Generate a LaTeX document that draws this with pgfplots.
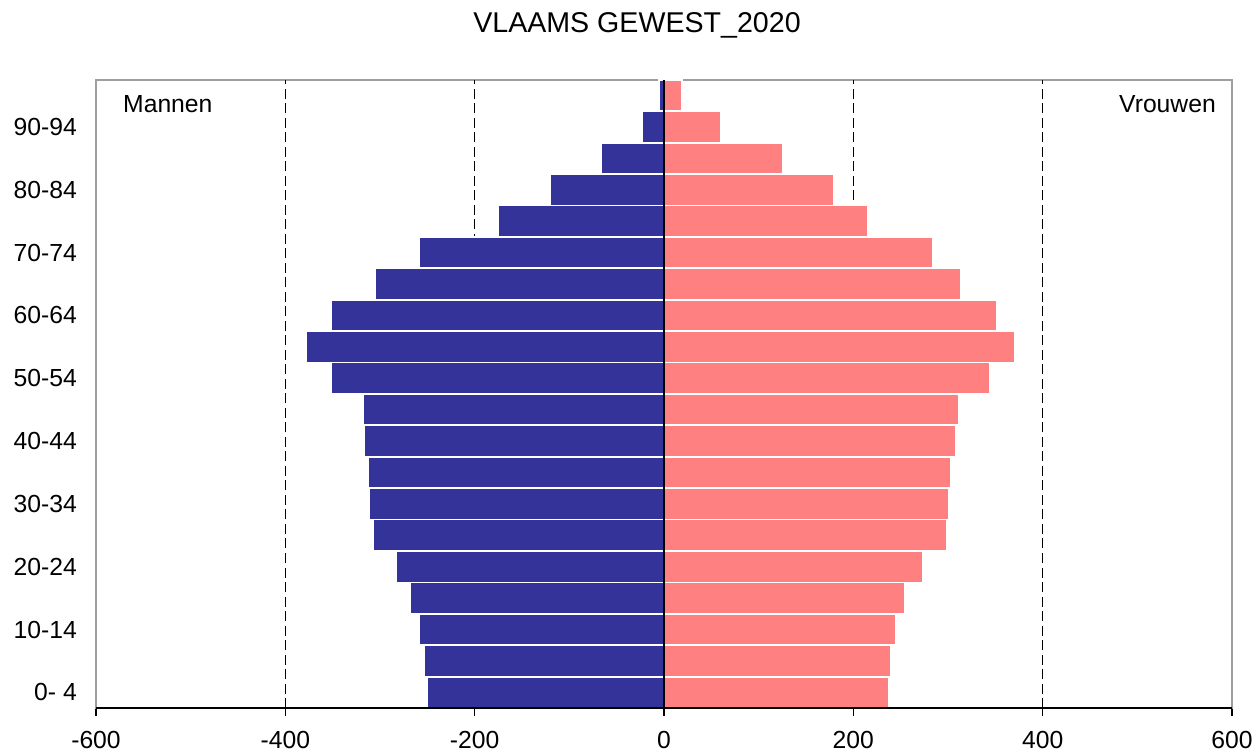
\documentclass[border=0pt]{standalone}
\usepackage{fontspec}
\setmainfont{Liberation Sans}
\usepackage{pgfplots}
\pgfplotsset{compat=1.18}

\definecolor{mannen}{HTML}{333399}
\definecolor{vrouwen}{HTML}{FF8080}

\begin{document}
\begin{tikzpicture}
  \path[use as bounding box] (-96pt,-45pt) rectangle (1160pt,708pt);
  \begin{axis}[
      at={(0,0)}, anchor=south west,
      scale only axis,
      width=1136pt, height=628pt,
      xmin=-600, xmax=600,
      ymin=-0.5, ymax=19.5,
      xbar, bar width=31.4pt,
      xtick={-600,-400,-200,0,200,400,600},
      xtick pos=lower,
      ytick={0,2,...,18},
      yticklabels={0- 4,10-14,20-24,30-34,40-44,50-54,60-64,70-74,80-84,90-94},
      ytick style={draw=none},
      xtick align=outside,
      major tick length=8pt,
      xtick style={black, line width=1.3pt},
      axis line style={draw=gray!75, line width=1.3pt},
      /pgf/number format/assume math mode=true,
      tick label style={font=\fontsize{24.7}{28}\selectfont, black},
      yticklabel style={inner sep=0pt, xshift=-11pt},
      xticklabel style={inner sep=0pt, anchor=north, yshift=-15pt},
      extra x ticks={-400,-200,200,400},
      extra x tick labels={},
      extra x tick style={grid=major, major grid style={black, line width=1.6pt, dash pattern=on 10pt off 4.5pt}, major tick length=0pt},
      title={VLAAMS GEWEST\_2020},
      title style={font=\fontsize{28.6}{32}\selectfont, at={(0.5,1)}, anchor=base, yshift=41pt, xshift=-27pt},
    ]
    % Mannen (0-4 .. 95+)
    \addplot[xbar, bar shift=0pt, fill=mannen, draw=white, line width=1.8pt] coordinates {
      (-250,0) (-253,1) (-259,2) (-268,3) (-283,4) (-307,5) (-311,6) (-313,7) (-317,8) (-318,9)
      (-352,10) (-378,11) (-352,12) (-305,13) (-259,14) (-175,15) (-120,16) (-66,17) (-23,18) (-5,19)
    };
    % Vrouwen
    \addplot[xbar, bar shift=0pt, fill=vrouwen, draw=white, line width=1.8pt] coordinates {
      (238,0) (240,1) (245,2) (254,3) (273,4) (299,5) (301,6) (303,7) (308,8) (312,9)
      (344,10) (371,11) (352,12) (314,13) (284,14) (215,15) (180,16) (126,17) (60,18) (19,19)
    };
    \draw[black, line width=1.5pt] (axis cs:0,-0.5) -- (axis cs:0,19.5);
    \draw[black, line width=1.5pt] (rel axis cs:0,0) -- (rel axis cs:1,0);
    \node[anchor=base west, font=\fontsize{24.7}{28}\selectfont, inner sep=0pt]
      at ([xshift=27pt,yshift=-33pt]rel axis cs:0,1) {Mannen};
    \node[anchor=base east, font=\fontsize{24.7}{28}\selectfont, inner sep=0pt]
      at ([xshift=-16pt,yshift=-33pt]rel axis cs:1,1) {Vrouwen};
  \end{axis}
\end{tikzpicture}
\end{document}
